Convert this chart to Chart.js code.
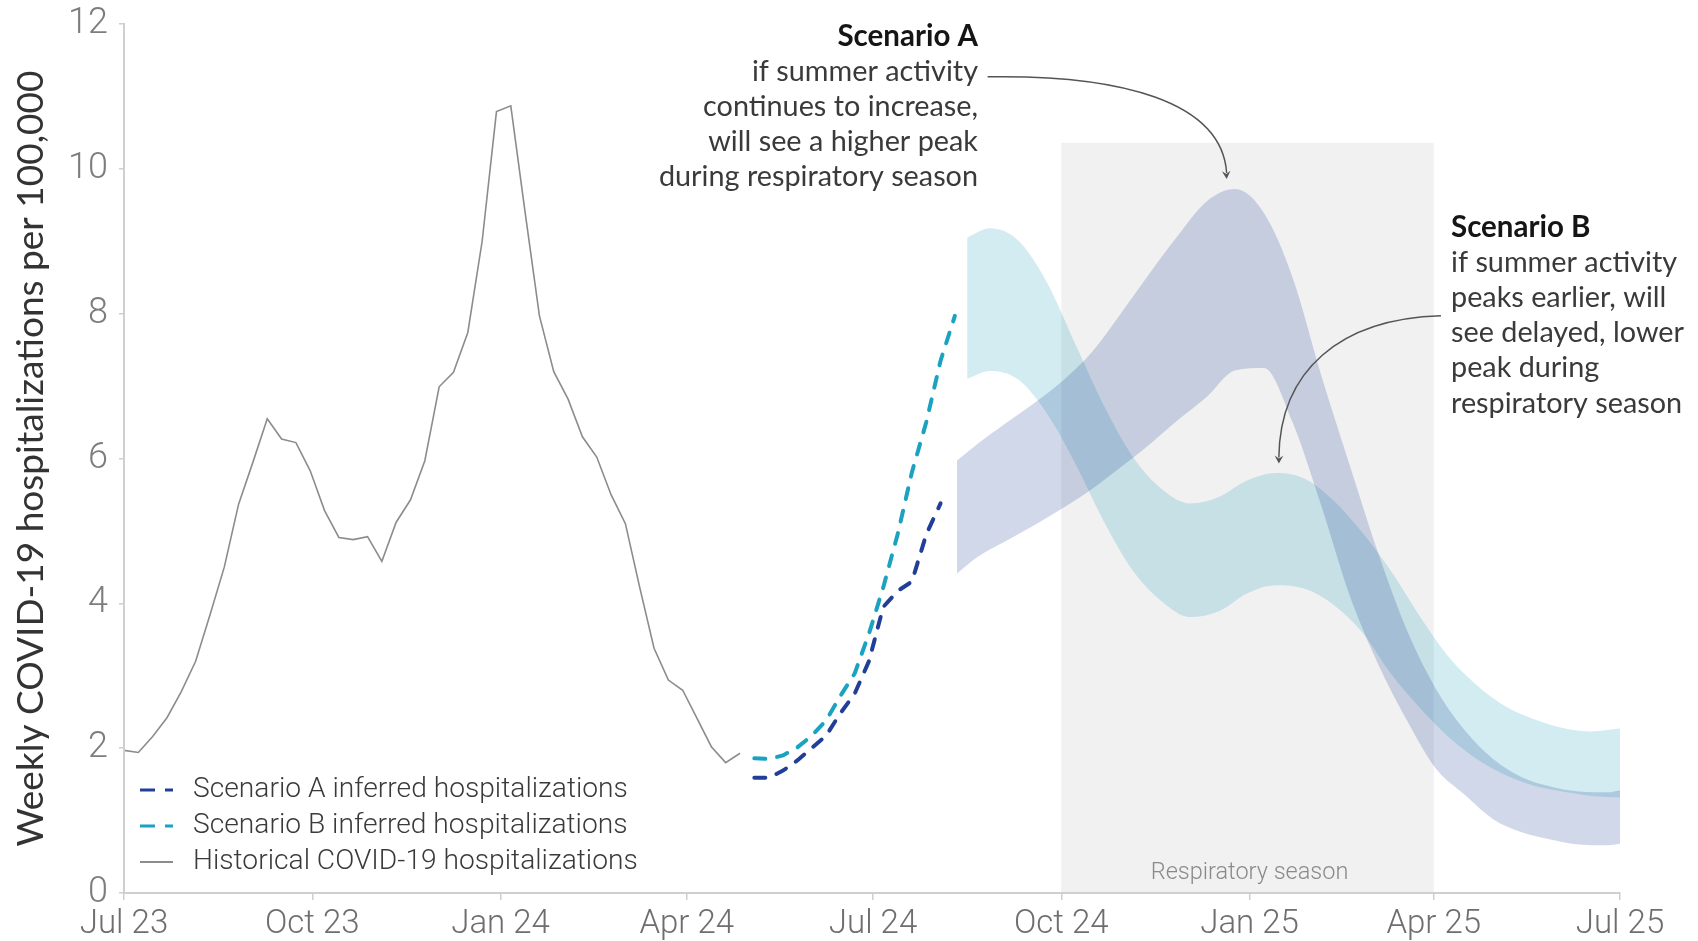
<!DOCTYPE html>
<html>
<head>
<meta charset="utf-8">
<script src="https://cdn.jsdelivr.net/npm/chart.js@4.4.1/dist/chart.umd.min.js"></script>
<style>
  html, body { margin: 0; padding: 0; background: #fff; }
</style>
</head>
<body>
<canvas id="chart" width="1698" height="941"></canvas>
<script>
// x values are days counted from 1 Jul 2023
const xTickDays = [0, 92, 184, 275, 366, 458, 550, 640, 731];
const xTickLabels = ['Jul 23', 'Oct 23', 'Jan 24', 'Apr 24', 'Jul 24', 'Oct 24', 'Jan 25', 'Apr 25', 'Jul 25'];
const yTickValues = [0, 2, 4, 6, 8, 10, 12];

// weekly historical hospitalizations, first week = day 0
const historicalStart = 0;
const historical = [1.97, 1.94, 2.16, 2.42, 2.78, 3.2, 3.84, 4.5, 5.37, 5.95, 6.55, 6.27, 6.22, 5.83, 5.28,
  4.91, 4.88, 4.92, 4.58, 5.12, 5.43, 5.97, 6.99, 7.19, 7.74, 9.0, 10.79, 10.87, 9.4, 7.97, 7.2, 6.82,
  6.3, 6.02, 5.5, 5.1, 4.22, 3.38, 2.94, 2.8, 2.41, 2.02, 1.8, 1.93];

// weekly inferred hospitalizations, first week = day 308
const inferredStart = 308;
const scenarioAInferred = [1.59, 1.59, 1.69, 1.83, 2.0, 2.17, 2.48, 2.75, 3.2, 3.95, 4.17, 4.3, 4.95, 5.38];
const scenarioBInferred = [1.86, 1.85, 1.9, 2.01, 2.17, 2.38, 2.72, 3.03, 3.58, 4.22, 4.95, 5.81, 6.5, 7.35, 7.97];

// projection ranges
const bandADays = [407, 417, 431, 445, 459, 473, 487, 501, 515, 529, 543, 557, 571, 585, 599, 613, 627, 641, 655, 669, 683, 697, 711, 725, 731];
const bandALow = [4.41, 4.64, 4.86, 5.08, 5.32, 5.58, 5.88, 6.19, 6.53, 6.85, 7.22, 7.25, 6.5, 5.35, 4.1, 3.15, 2.38, 1.72, 1.36, 1.02, 0.84, 0.74, 0.67, 0.66, 0.68];
const bandAHigh = [5.97, 6.2, 6.49, 6.77, 7.08, 7.47, 8.0, 8.55, 9.08, 9.55, 9.72, 9.39, 8.5, 7.15, 5.9, 4.68, 3.62, 2.82, 2.25, 1.85, 1.6, 1.47, 1.4, 1.39, 1.42];
const bandBDays = [412, 423, 437, 451, 465, 479, 493, 507, 521, 535, 549, 563, 577, 591, 605, 619, 633, 647, 661, 675, 689, 703, 717, 731];
const bandBLow = [7.1, 7.21, 7.09, 6.62, 5.92, 5.12, 4.45, 4.03, 3.81, 3.89, 4.14, 4.25, 4.2, 3.98, 3.6, 3.03, 2.56, 2.16, 1.85, 1.63, 1.48, 1.4, 1.34, 1.32];
const bandBHigh = [9.05, 9.18, 9.01, 8.43, 7.57, 6.72, 6.02, 5.58, 5.38, 5.47, 5.7, 5.8, 5.72, 5.42, 4.98, 4.45, 3.83, 3.27, 2.87, 2.58, 2.4, 2.28, 2.23, 2.27];

// respiratory season: 1 Oct 2024 - 1 Apr 2025
const seasonFrom = 458;
const seasonTo = 640;
const seasonTop = 10.36;

const colA = '#213f99';
const colB = '#1ba2c0';
const colHist = '#8c8c8c';

const weekly = (start, vals) => vals.map((v, i) => ({ x: start + 7 * i, y: v }));
const paired = (days, vals) => vals.map((v, i) => ({ x: days[i], y: v }));

const noteFont = 'Lato, "Noto Sans", sans-serif';

const decor = {
  id: 'decor',
  beforeDatasetsDraw(chart) {
    const { ctx, scales: { x, y } } = chart;
    const x0 = x.getPixelForValue(seasonFrom), x1 = x.getPixelForValue(seasonTo);
    const yt = y.getPixelForValue(seasonTop), yb = y.getPixelForValue(0);
    ctx.save();
    ctx.fillStyle = '#f1f1f1';
    ctx.fillRect(x0, yt, x1 - x0, yb - yt);
    ctx.fillStyle = '#8a8a8a';
    ctx.font = '300 23.5px Roboto';
    ctx.textAlign = 'center';
    ctx.textBaseline = 'middle';
    ctx.fillText('Respiratory season', (x0 + x1) / 2 + 2, yb - 20);
    ctx.restore();
  },
  afterDraw(chart) {
    const { ctx, scales: { x, y } } = chart;
    const px = (d, v) => [x.getPixelForValue(d), y.getPixelForValue(v)];
    ctx.save();

    // legend, bottom left
    const rows = chart.data.datasets.slice(0, 3);
    rows.forEach((ds, i) => {
      const cy = 790 + i * 36;
      ctx.strokeStyle = ds.borderColor;
      ctx.lineWidth = ds.borderDash ? 3 : 2;
      ctx.setLineDash(ds.borderDash ? [15, 10] : []);
      ctx.beginPath();
      ctx.moveTo(140, cy);
      ctx.lineTo(173, cy);
      ctx.stroke();
      ctx.setLineDash([]);
      ctx.fillStyle = '#3a3a3a';
      ctx.font = '300 28.2px Roboto';
      ctx.textAlign = 'left';
      ctx.textBaseline = 'middle';
      ctx.fillText(ds.label, 193, cy);
    });

    // arrows
    ctx.strokeStyle = '#555';
    ctx.fillStyle = '#555';
    ctx.lineWidth = 1.5;
    const arrow = (p0, c1, c2, p3) => {
      ctx.beginPath();
      ctx.moveTo(p0[0], p0[1]);
      ctx.bezierCurveTo(c1[0], c1[1], c2[0], c2[1], p3[0], p3[1] - 6);
      ctx.stroke();
      const a = Math.atan2(p3[1] - c2[1], p3[0] - c2[0]);
      ctx.beginPath();
      ctx.moveTo(p3[0], p3[1]);
      ctx.lineTo(p3[0] - 9 * Math.cos(a - 0.5), p3[1] - 9 * Math.sin(a - 0.5));
      ctx.lineTo(p3[0] - 5 * Math.cos(a), p3[1] - 5 * Math.sin(a));
      ctx.lineTo(p3[0] - 9 * Math.cos(a + 0.5), p3[1] - 9 * Math.sin(a + 0.5));
      ctx.closePath();
      ctx.fill();
    };
    arrow(px(422, 11.27), px(486.5, 11.3), px(536.4, 10.94), px(538.8, 9.86));
    arrow(px(643.5, 7.97), px(594, 7.93), px(564.8, 7.21), px(564.3, 5.93));

    // notes
    const note = (lines, tx, ty, align) => {
      ctx.textAlign = align;
      ctx.textBaseline = 'middle';
      lines.forEach((t, i) => {
        ctx.fillStyle = i === 0 ? '#151515' : '#3a3a3a';
        ctx.font = (i === 0 ? '700 29.5px ' : '400 28.8px ') + noteFont;
        ctx.fillText(t, tx, ty + i * 35.3);
      });
    };
    note(['Scenario A', 'if summer activity', 'continues to increase,', 'will see a higher peak', 'during respiratory season'], 978, 36, 'right');
    note(['Scenario B', 'if summer activity', 'peaks earlier, will', 'see delayed, lower', 'peak during', 'respiratory season'], 1451, 227, 'left');
    ctx.restore();
  }
};

const line = (label, data, color, width, dash) => ({
  label, data, borderColor: color, borderWidth: width, borderDash: dash,
  borderCapStyle: dash ? 'round' : 'butt', pointRadius: 0, fill: false, tension: 0
});
const edge = (data, fill, bg) => ({
  data, borderColor: 'rgba(0,0,0,0)', borderWidth: 0, pointRadius: 0,
  fill, backgroundColor: bg, cubicInterpolationMode: 'monotone'
});

new Chart(document.getElementById('chart'), {
  type: 'line',
  data: {
    datasets: [
      line('Scenario A inferred hospitalizations', weekly(inferredStart, scenarioAInferred), colA, 4, [11, 12]),
      line('Scenario B inferred hospitalizations', weekly(inferredStart, scenarioBInferred), colB, 4, [11, 12]),
      line('Historical COVID-19 hospitalizations', weekly(historicalStart, historical), colHist, 1.6, undefined),
      edge(paired(bandADays, bandALow), false),
      edge(paired(bandADays, bandAHigh), '-1', 'rgba(40, 70, 150, 0.21)'),
      edge(paired(bandBDays, bandBLow), false),
      edge(paired(bandBDays, bandBHigh), '-1', 'rgba(30, 160, 190, 0.2)')
    ]
  },
  options: {
    responsive: false,
    animation: false,
    layout: { padding: { top: 24, right: 78, left: 0, bottom: 0 } },
    plugins: { legend: { display: false }, tooltip: { enabled: false } },
    scales: {
      x: {
        type: 'linear', min: 0, max: 731,
        afterBuildTicks: (axis) => { axis.ticks = xTickDays.map(v => ({ value: v })); },
        afterFit: (s) => { s.height = 48; s.paddingLeft = 0; s.paddingRight = 0; },
        ticks: {
          autoSkip: false, maxRotation: 0, padding: 5,
          color: '#6e6e6e', font: { family: 'Roboto', size: 33, weight: '300' },
          callback: (v, i) => xTickLabels[i]
        },
        grid: { drawOnChartArea: false, drawTicks: true, tickLength: 7, color: '#cfcfcf', lineWidth: 1.5 },
        border: { display: true, color: '#cfcfcf', width: 2, z: 1 }
      },
      y: {
        min: 0, max: 12,
        afterBuildTicks: (axis) => { axis.ticks = yTickValues.map(v => ({ value: v })); },
        afterFit: (s) => { s.width = 124; s.paddingTop = 0; s.paddingBottom = 0; },
        ticks: {
          padding: 11, color: '#7d7d7d', font: { family: 'Roboto', size: 36, weight: '300' },
          callback: (v) => String(v)
        },
        grid: { drawOnChartArea: false, drawTicks: true, tickLength: 5, color: '#cfcfcf', lineWidth: 1.5 },
        border: { display: true, color: '#cfcfcf', width: 2, z: 1 },
        title: {
          display: true, text: 'Weekly COVID-19 hospitalizations per 100,000',
          color: '#333', font: { family: 'Lato', size: 37 }, padding: { top: 9, bottom: 0 }
        }
      }
    }
  },
  plugins: [decor]
});
</script>
</body>
</html>
